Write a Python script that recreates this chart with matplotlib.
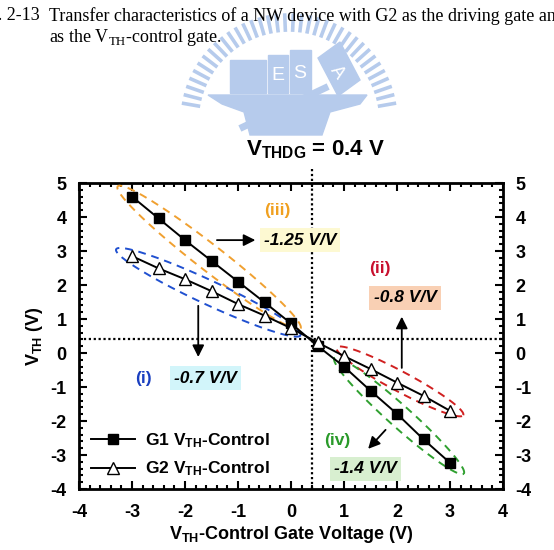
import numpy as np
import matplotlib
matplotlib.use("Agg")
import matplotlib.pyplot as plt
from matplotlib.patches import Polygon, Rectangle
from matplotlib.ticker import MultipleLocator

plt.rcParams['font.family'] = ['Liberation Sans', 'DejaVu Sans']
plt.rcParams['mathtext.fontset'] = 'custom'
plt.rcParams['mathtext.rm'] = 'Liberation Serif'
plt.rcParams['mathtext.bf'] = 'Liberation Sans:bold'
plt.rcParams['axes.unicode_minus'] = False

# data
vg = [-3, -2.5, -2, -1.5, -1, -0.5, 0, 0.5, 1, 1.5, 2, 2.5, 3]
g1_vth = [4.60, 3.96, 3.32, 2.71, 2.10, 1.49, 0.87, 0.21, -0.40, -1.11, -1.79, -2.54, -3.23]
g2_vth = [2.85, 2.49, 2.17, 1.82, 1.44, 1.10, 0.73, 0.31, -0.09, -0.47, -0.87, -1.26, -1.70]
vthdg = 0.4
slopes = ["-1.25 V/V", "-0.7 V/V", "-0.8 V/V", "-1.4 V/V"]
tags = ["(iii)", "(i)", "(ii)", "(iv)"]

W, H = 554, 550
fig = plt.figure(figsize=(W / 100, H / 100), dpi=100)
ax = fig.add_axes([79 / W, 1 - 489 / H, 424 / W, 306 / H])
ax.set_xlim(-4, 4)
ax.set_ylim(-4, 5)

# watermark logo (light blue), drawn in figure pixels
logo = '#b6cbec'
cx, cy = 289, 122
for a in np.linspace(10, 170, 36):
    r = np.radians(a)
    x0, y0 = cx + 92 * np.cos(r), cy - 92 * np.sin(r)
    x1, y1 = cx + 107 * np.cos(r), cy - 107 * np.sin(r)
    fig.lines.append(plt.Line2D([x0 / W, x1 / W], [1 - y0 / H, 1 - y1 / H],
                                transform=fig.transFigure, color=logo, lw=2.6, zorder=0))
anvil = [(208, 95), (367, 95), (360, 104), (330, 112), (322, 135), (250, 135),
         (244, 112), (222, 104)]
fig.patches.append(Polygon([(x / W, 1 - y / H) for x, y in anvil], closed=True,
                           transform=fig.transFigure, color=logo, zorder=0))
for (x, y, w, h) in [(230, 60, 36, 33), (268, 55, 20, 38), (290, 50, 21, 43)]:
    fig.patches.append(Rectangle((x / W, 1 - (y + h) / H), w / W, h / H,
                                 transform=fig.transFigure, color=logo, zorder=0))
for k in range(7):
    y = 63 + k * 4
    fig.lines.append(plt.Line2D([234 / W, 262 / W], [1 - y / H, 1 - y / H],
                                transform=fig.transFigure, color='white', lw=1.2, zorder=0))
fig.text(278 / W, 1 - 76 / H, "E", color='white', fontsize=14, ha='center', va='center', zorder=0)
fig.text(300 / W, 1 - 74 / H, "S", color='white', fontsize=14, ha='center', va='center', zorder=0)
head = [(318, 58), (340, 42), (360, 80), (338, 96)]
fig.patches.append(Polygon([(x / W, 1 - y / H) for x, y in head], closed=True,
                           transform=fig.transFigure, color=logo, zorder=0))
fig.text(337 / W, 1 - 72 / H, "A", color='white', fontsize=13, rotation=-55,
         ha='center', va='center', zorder=0)
fig.lines.append(plt.Line2D([243 / W, 325 / W], [1 - 127 / H, 1 - 88 / H],
                            transform=fig.transFigure, color=logo, lw=5, zorder=0))

# caption
cap = dict(family=['Liberation Serif', 'DejaVu Serif'], fontsize=13, va='center')
fig.text(40 / W, 1 - 16 / H, "Fig. 2-13", ha='right', **cap)
fig.text(49 / W, 1 - 16 / H,
         "Transfer characteristics of a NW device with G2 as the driving gate and G1", ha='left', **cap)
fig.text(49 / W, 1 - 37 / H, r"as the V$_{\mathrm{TH}}$-control gate.", ha='left', **cap)

# reference lines
ax.plot([vthdg, vthdg], [-4, 5.45], color='black', ls=(0, (1, 1.2)), lw=1.6, clip_on=False, zorder=1)
ax.axhline(vthdg, color='black', ls=(0, (1, 1.2)), lw=1.6, zorder=1)
fig.text(315 / W, 1 - 150 / H, r"$\mathbf{V_{THDG}}$ = 0.4 V", ha='center', va='center',
         fontsize=16, fontweight='bold')

# data series
ax.plot(vg, g1_vth, color='black', lw=1.4, marker='s', ms=6.5, mfc='black',
        label=r"G1 $\mathbf{V_{TH}}$-Control", zorder=4)
ax.plot(vg, g2_vth, color='black', lw=1.4, marker='^', ms=8, mfc='white', mec='black',
        label=r"G2 $\mathbf{V_{TH}}$-Control", zorder=4)

# dashed ellipses around segments
sx = 424 / 8
sy = 306 / 9


def ellipse(p0, p1, hw, color):
    d = np.array([(p1[0] - p0[0]) * sx, (p1[1] - p0[1]) * sy])
    L = np.hypot(*d)
    u = d / L
    n = np.array([-u[1], u[0]])
    t = np.linspace(0, 2 * np.pi, 200)
    pts = np.outer(np.cos(t), u) * L / 2 + np.outer(np.sin(t), n) * hw
    xs = (p0[0] + p1[0]) / 2 + pts[:, 0] / sx
    ys = (p0[1] + p1[1]) / 2 + pts[:, 1] / sy
    ax.plot(xs, ys, color=color, ls=(0, (4, 3)), lw=1.4, zorder=3)


ellipse((-3.27, 4.9), (0.18, 0.72), 13, '#f0a030')
ellipse((-3.3, 3.05), (0.18, 0.52), 12, '#2050d0')
ellipse((0.86, 0.16), (3.25, -1.83), 10, '#d02020')
ellipse((0.82, -0.15), (3.26, -3.55), 11, '#30a030')

# annotations
lab = dict(fontsize=12.5, fontweight='bold', ha='center', va='center')
box = dict(fontsize=12.5, fontweight='bold', fontstyle='italic', ha='center', va='center')
arr = dict(arrowstyle='-|>,head_width=0.35,head_length=0.7', color='black', lw=1.3)

ax.text(-0.26, 4.18, tags[0], color='#f0a020', **lab)
ax.text(0.17, 3.32, slopes[0], bbox=dict(fc='#fdf9d2', ec='none', pad=3), **box)
ax.annotate("", xy=(-0.62, 3.32), xytext=(-1.45, 3.32), arrowprops=arr)

ax.text(-2.79, -0.74, tags[1], color='#1a3fc0', **lab)
ax.text(-1.62, -0.74, slopes[1], bbox=dict(fc='#d2f5fa', ec='none', pad=3), **box)
ax.annotate("", xy=(-1.75, -0.2), xytext=(-1.75, 1.47), arrowprops=arr)

ax.text(1.68, 2.5, tags[2], color='#c8102e', **lab)
ax.text(2.15, 1.62, slopes[2], bbox=dict(fc='#f9d0b4', ec='none', pad=3), **box)
ax.annotate("", xy=(2.09, 1.15), xytext=(2.09, -0.52), arrowprops=arr)

ax.text(0.87, -2.56, tags[3], color='#2a9a2a', **lab)
ax.text(1.4, -3.41, slopes[3], bbox=dict(fc='#d8efd0', ec='none', pad=3), **box)
ax.annotate("", xy=(1.42, -2.88), xytext=(1.82, -2.2), arrowprops=arr)

# axes styling
ax.xaxis.set_major_locator(MultipleLocator(1))
ax.xaxis.set_minor_locator(MultipleLocator(0.2))
ax.yaxis.set_major_locator(MultipleLocator(1))
ax.yaxis.set_minor_locator(MultipleLocator(0.2))
ax.tick_params(which='both', direction='in', top=True, right=True, labelright=True,
               width=1.5)
ax.tick_params(which='major', length=6, labelsize=13)
ax.tick_params(axis='x', which='major', pad=11)
ax.tick_params(axis='y', which='major', pad=9)
ax.tick_params(which='minor', length=3)
for t in ax.get_xticklabels() + ax.get_yticklabels():
    t.set_fontweight('bold')
for s in ax.spines.values():
    s.set_linewidth(2)

ax.set_xlabel(r"$\mathbf{V_{TH}}$-Control Gate Voltage (V)", fontsize=13, fontweight='bold', labelpad=2)
ax.set_ylabel(r"$\mathbf{V_{TH}}$ (V)", fontsize=13, fontweight='bold', labelpad=4)

leg = ax.legend(loc='lower left', bbox_to_anchor=(0.0, -0.005), frameon=False, fontsize=12.5,
                handlelength=2.5, handletextpad=0.6, labelspacing=0.55, borderaxespad=0.3)
for t in leg.get_texts():
    t.set_fontweight('bold')

fig.savefig("out.png", dpi=100)
